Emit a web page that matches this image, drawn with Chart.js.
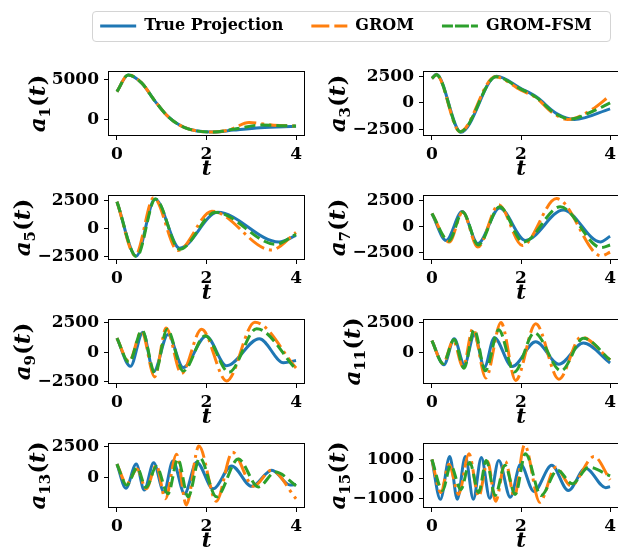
<!DOCTYPE html>
<html>
<head>
<meta charset="utf-8">
<script src="https://cdn.jsdelivr.net/npm/chart.js@4.4.0/dist/chart.umd.min.js"></script>
<style>
  html, body { margin: 0; padding: 0; background: #fff; overflow: hidden; }
  body { width: 618px; height: 549px; position: relative; }
  canvas { position: absolute; }
  #legendBox { position: absolute; left: 92px; top: 11px; width: 517px; height: 29px;
               border: 1px solid #d4d4d4; border-radius: 4px; }
</style>
</head>
<body>
<div id="legendBox"></div>
<canvas id="legend" width="570" height="120"></canvas>
<canvas id="p0"></canvas><canvas id="p1"></canvas>
<canvas id="p2"></canvas><canvas id="p3"></canvas>
<canvas id="p4"></canvas><canvas id="p5"></canvas>
<canvas id="p6"></canvas><canvas id="p7"></canvas>
<script>
// series names and x ticks
const seriesNames = ['True Projection', 'GROM', 'GROM-FSM'];
const tTicks = [0, 2, 4];

// [t, a(t)], mostly at the turning points
const a1True = [[0,3500],[0.25,5600],[0.55,4600],[0.85,2300],[1.15,300],[1.5,-1000],[2.15,-1600],[2.6,-1350],[3.2,-1050],[4,-880]];
const a1Grom = [[0,3500],[0.25,5600],[0.55,4600],[0.85,2300],[1.15,300],[1.5,-1000],[2.15,-1600],[2.5,-1350],[2.95,-400],[3.5,-750],[4,-850]];
const a1Fsm  = [[0,3500],[0.25,5600],[0.55,4600],[0.85,2300],[1.15,300],[1.5,-1000],[2.15,-1600],[2.6,-1250],[3.25,-700],[3.7,-800],[4,-850]];
const a1Ticks = [0, 5000];

const a3True = [[0,2300],[0.1,2700],[0.65,-2750],[1.45,2500],[2.0,1350],[2.35,550],[2.8,-1000],[3.2,-1550],[4,-550]];
const a3Grom = [[0,2300],[0.1,2650],[0.63,-2700],[1.42,2450],[2.0,1200],[2.35,450],[2.7,-900],[3.05,-1550],[3.6,-600],[4,700]];
const a3Fsm  = [[0,2300],[0.1,2650],[0.64,-2700],[1.44,2450],[2.0,1300],[2.35,500],[2.75,-950],[3.12,-1500],[3.6,-800],[4,0]];
const a3Ticks = [-2500, 0, 2500];

const a5True = [[0,2400],[0.43,-2450],[0.85,2650],[1.4,-1750],[2.25,1450],[3.62,-1200],[4,-600]];
const a5Grom = [[0,2400],[0.41,-2400],[0.82,2750],[1.36,-1950],[2.12,1550],[3.45,-1900],[4,-350]];
const a5Fsm  = [[0,2400],[0.44,-2500],[0.86,2650],[1.4,-1850],[2.2,1450],[3.55,-1400],[4,-500]];
const a5Ticks = [-2500, 0, 2500];

const a7True = [[0,1250],[0.32,-1350],[0.68,1450],[1.03,-1650],[1.52,1800],[2.1,-1350],[2.95,1600],[3.78,-1500],[4,-950]];
const a7Grom = [[0,1250],[0.39,-1500],[0.69,1400],[1.03,-2000],[1.5,2100],[2.03,-1850],[2.8,2700],[3.8,-2850],[4,-2500]];
const a7Fsm  = [[0,1250],[0.38,-1400],[0.69,1400],[1.04,-1800],[1.52,1900],[2.05,-1500],[2.88,1900],[3.8,-2050],[4,-1800]];
const a7Ticks = [-2500, 0, 2500];

const a9True = [[0,1200],[0.3,-1200],[0.58,1700],[0.82,-1650],[1.14,1500],[1.48,-1300],[1.99,1350],[2.45,-1150],[3.18,1150],[3.72,-900],[4,-700]];
const a9Grom = [[0,1200],[0.27,-800],[0.55,1800],[0.84,-2100],[1.1,2050],[1.44,-1800],[1.89,1950],[2.45,-2450],[3.08,2550],[4,-1350]];
const a9Fsm  = [[0,1200],[0.27,-850],[0.56,1850],[0.85,-1800],[1.12,1950],[1.48,-1600],[1.97,1400],[2.5,-1700],[3.12,2000],[4,-1450]];
const a9Ticks = [-2500, 0, 2500];

const a11True = [[0,1000],[0.27,-1000],[0.5,1150],[0.73,-1000],[0.95,1500],[1.18,-1200],[1.4,1250],[1.8,-1150],[2.33,900],[2.85,-950],[3.4,800],[4,-850]];
const a11Grom = [[0,1000],[0.25,-900],[0.48,1000],[0.7,-1200],[0.92,2000],[1.21,-2100],[1.55,2500],[1.88,-2300],[2.33,2400],[2.85,-2200],[3.35,1300],[4,-600]];
const a11Fsm  = [[0,1000],[0.25,-900],[0.5,1100],[0.72,-1300],[0.95,1900],[1.2,-1500],[1.5,1900],[1.85,-1600],[2.3,1650],[2.9,-1500],[3.4,1200],[4,-600]];
const a11Ticks = [0, 2500];

const a13True = [[0,1100],[0.2,-850],[0.43,1100],[0.61,-1000],[0.82,1200],[1.05,-1150],[1.25,1350],[1.51,-1300],[1.78,1250],[2.15,-900],[2.56,950],[3.01,-700],[3.46,600],[3.87,-600],[4,-550]];
const a13Grom = [[0,1100],[0.22,-500],[0.45,700],[0.65,-900],[0.88,1000],[1.08,-1700],[1.33,1900],[1.55,-2200],[1.83,2550],[2.22,-1900],[2.58,2050],[3.05,-700],[3.45,600],[4,-1700]];
const a13Fsm  = [[0,1100],[0.22,-600],[0.45,800],[0.65,-800],[0.88,900],[1.14,-1300],[1.36,1500],[1.59,-1550],[1.85,1600],[2.22,-1550],[2.71,1500],[3.16,-750],[3.54,450],[4,-650]];
const a13Ticks = [0, 2500];

const a15True = [[0,1000],[0.19,-1050],[0.4,1150],[0.57,-1050],[0.75,1150],[0.93,-1050],[1.11,1100],[1.3,-1000],[1.5,950],[1.76,-950],[1.99,750],[2.29,-650],[2.69,700],[3.06,-600],[3.45,550],[3.9,-450],[4,-400]];
const a15Grom = [[0,1000],[0.2,-700],[0.38,750],[0.6,-800],[0.83,1300],[1.05,-900],[1.25,900],[1.43,-1150],[1.65,900],[1.85,-900],[2.08,1750],[2.42,-1200],[2.78,600],[3.12,-350],[3.64,1150],[4,-50]];
const a15Fsm  = [[0,1000],[0.24,-600],[0.42,700],[0.65,-550],[0.85,850],[1.05,-700],[1.22,950],[1.42,-850],[1.64,700],[1.87,-800],[2.1,1300],[2.45,-850],[2.82,450],[3.15,-250],[3.52,600],[4,150]];
const a15Ticks = [-1000, 0, 1000];

const panels = [
  {sub: '1',  lines: [a1True, a1Grom, a1Fsm],    ticks: a1Ticks,  min: -2100, max: 6100},
  {sub: '3',  lines: [a3True, a3Grom, a3Fsm],    ticks: a3Ticks,  min: -3100, max: 3000},
  {sub: '5',  lines: [a5True, a5Grom, a5Fsm],    ticks: a5Ticks,  min: -2800, max: 3000},
  {sub: '7',  lines: [a7True, a7Grom, a7Fsm],    ticks: a7Ticks,  min: -3250, max: 3050},
  {sub: '9',  lines: [a9True, a9Grom, a9Fsm],    ticks: a9Ticks,  min: -2700, max: 2820},
  {sub: '11', lines: [a11True, a11Grom, a11Fsm], ticks: a11Ticks, min: -2600, max: 2800},
  {sub: '13', lines: [a13True, a13Grom, a13Fsm], ticks: a13Ticks, min: -2450, max: 2800},
  {sub: '15', lines: [a15True, a15Grom, a15Fsm], ticks: a15Ticks, min: -1500, max: 1850}
];

const styles = [
  {color: '#1f77b4', dash: []},
  {color: '#ff7f0e', dash: [18, 5, 3, 5]},
  {color: '#2ca02c', dash: [11, 5]}
];

const FAMILY = '"DejaVu Serif", serif';
const tickFont = {family: FAMILY, size: 17, weight: 'bold'};

// grid geometry
const colLeft = [0, 310];
const axisW = [108, 113];
const plotW = [197, 196];
const padRight = [5, 0];
const rowTop = [71, 195, 319, 443];
const plotH = 65;
const padTop = 6;
const xAxisH = 46;

function fmt(v) {
  return v < 0 ? '\u2212' + Math.abs(v) : String(v);
}

// box around the plot area (matplotlib style spines)
const framePlugin = {
  id: 'frame',
  afterDraw(chart) {
    const a = chart.chartArea, ctx = chart.ctx;
    ctx.save();
    ctx.strokeStyle = '#000';
    ctx.lineWidth = 1;
    const l = Math.round(a.left) + 0.5, t = Math.round(a.top) + 0.5;
    const r = Math.round(a.right) - 0.5, b = Math.round(a.bottom) - 0.5;
    ctx.strokeRect(l, t, r - l, b - t);
    ctx.restore();
  }
};

// y label a_k(t) with a real subscript
const yLabelPlugin = {
  id: 'ylabel',
  afterDraw(chart, args, opts) {
    const ctx = chart.ctx, a = chart.chartArea, ys = chart.scales.y;
    ctx.save();
    ctx.font = 'bold 17px ' + FAMILY;
    let widest = 0;
    ys.ticks.forEach(t => { widest = Math.max(widest, ctx.measureText(t.label).width); });
    const xb = a.left - 4 - 5 - widest - 7;
    const parts = [
      {text: 'a', font: 'italic bold 23px ' + FAMILY, dy: 0},
      {text: opts.sub, font: 'bold 15px ' + FAMILY, dy: 5},
      {text: '(', font: 'bold 23px ' + FAMILY, dy: 0},
      {text: 't', font: 'italic bold 23px ' + FAMILY, dy: 0},
      {text: ')', font: 'bold 23px ' + FAMILY, dy: 0}
    ];
    let total = 0;
    parts.forEach(p => { ctx.font = p.font; p.w = ctx.measureText(p.text).width; total += p.w; });
    ctx.translate(xb, (a.top + a.bottom) / 2);
    ctx.rotate(-Math.PI / 2);
    ctx.fillStyle = '#000';
    ctx.textBaseline = 'alphabetic';
    let x = -total / 2;
    parts.forEach(p => { ctx.font = p.font; ctx.fillText(p.text, x, p.dy); x += p.w; });
    ctx.restore();
  }
};

panels.forEach((p, i) => {
  const col = i % 2, row = Math.floor(i / 2);
  const cv = document.getElementById('p' + i);
  const w = axisW[col] + plotW[col] + padRight[col];
  const h = padTop + plotH + xAxisH;
  cv.width = w; cv.height = h;
  cv.style.left = colLeft[col] + 'px';
  cv.style.top = (rowTop[row] - padTop) + 'px';

  new Chart(cv, {
    type: 'line',
    data: {
      datasets: p.lines.map((pts, k) => ({
        label: seriesNames[k],
        data: pts,
        borderColor: styles[k].color,
        borderWidth: 3,
        borderDash: styles[k].dash,
        pointRadius: 0,
        fill: false,
        cubicInterpolationMode: 'monotone',
        clip: 0,
        order: 3 - k
      }))
    },
    options: {
      responsive: false,
      animation: false,
      events: [],
      layout: {padding: {top: padTop, right: padRight[col], left: 0, bottom: 0}},
      plugins: {
        legend: {display: false},
        tooltip: {enabled: false},
        ylabel: {sub: p.sub}
      },
      scales: {
        x: {
          type: 'linear', min: -0.2, max: 4.2,
          afterBuildTicks: s => { s.ticks = tTicks.map(v => ({value: v})); },
          afterFit: s => { s.height = xAxisH; s.paddingLeft = 0; s.paddingRight = 0; },
          grid: {drawOnChartArea: false, tickLength: 4, tickColor: '#000', tickWidth: 1},
          border: {display: false},
          ticks: {font: tickFont, color: '#000', padding: 4, maxRotation: 0, autoSkip: false,
                  callback: v => fmt(v)},
          title: {display: true, text: 't', color: '#000', padding: 0,
                  font: {family: FAMILY, size: 21, style: 'italic', weight: 'bold'}}
        },
        y: {
          type: 'linear', min: p.min, max: p.max,
          afterBuildTicks: s => { s.ticks = p.ticks.map(v => ({value: v})); },
          afterFit: s => { s.width = axisW[col]; s.paddingTop = 0; s.paddingBottom = 0; },
          grid: {drawOnChartArea: false, tickLength: 4, tickColor: '#000', tickWidth: 1},
          border: {display: false},
          ticks: {font: tickFont, color: '#000', padding: 5, autoSkip: false,
                  callback: v => fmt(v)}
        }
      }
    },
    plugins: [framePlugin, yLabelPlugin]
  });
});

// legend on its own canvas
const lg = document.getElementById('legend');
lg.style.left = '61px';
lg.style.top = '-10px';
new Chart(lg, {
  type: 'line',
  data: {
    datasets: seriesNames.map((n, k) => ({
      label: n, data: [],
      borderColor: styles[k].color, backgroundColor: styles[k].color,
      borderWidth: 3, borderDash: styles[k].dash
    }))
  },
  options: {
    responsive: false,
    animation: false,
    events: [],
    layout: {padding: 0},
    plugins: {
      legend: {
        position: 'top',
        labels: {boxWidth: 36, boxHeight: 0, padding: 28, color: '#000',
                 font: {family: FAMILY, size: 16, weight: 'bold'}}
      },
      tooltip: {enabled: false}
    },
    scales: {x: {display: false}, y: {display: false}}
  }
});
</script>
</body>
</html>
